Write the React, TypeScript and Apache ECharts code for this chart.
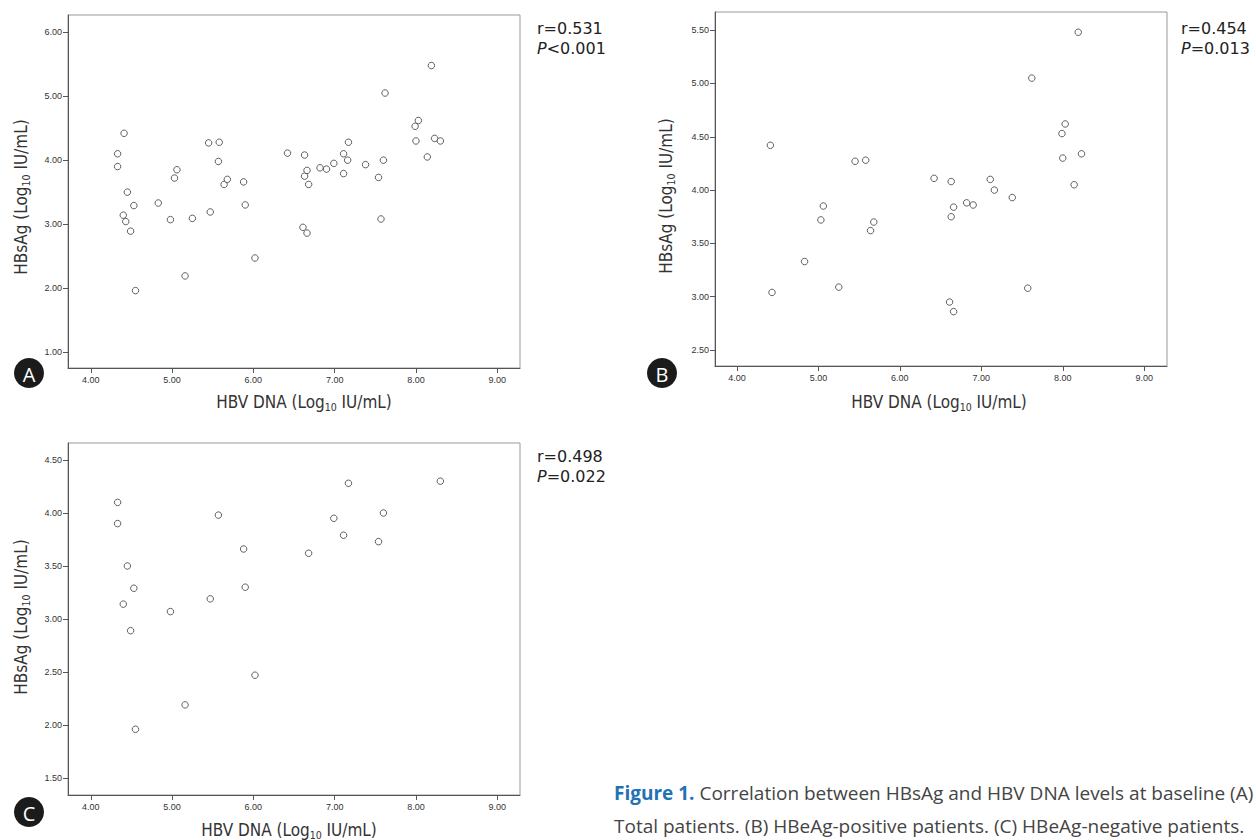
import React, { useEffect, useRef } from "react";
import * as echarts from "echarts";

// ---------- data ----------
const xTickValues = [4, 5, 6, 7, 8, 9];
const yTicksA = [1, 2, 3, 4, 5, 6];
const yTicksB = [2.5, 3, 3.5, 4, 4.5, 5, 5.5];
const yTicksC = [1.5, 2, 2.5, 3, 3.5, 4, 4.5];

// (B) HBeAg-positive patients: HBV DNA (log10 IU/mL), HBsAg (log10 IU/mL)
const posDNA = [4.41, 4.43, 4.83, 5.03, 5.06, 5.25, 5.45, 5.58, 5.64, 5.68, 6.42, 6.63, 6.63, 6.66, 6.61, 6.66, 6.82, 6.9, 7.11, 7.16, 7.38, 7.57, 7.62, 7.99, 8.03, 8.0, 8.14, 8.19, 8.23];
const posHBsAg = [4.42, 3.04, 3.33, 3.72, 3.85, 3.09, 4.27, 4.28, 3.62, 3.7, 4.11, 4.08, 3.75, 3.84, 2.95, 2.86, 3.88, 3.86, 4.1, 4.0, 3.93, 3.08, 5.05, 4.53, 4.62, 4.3, 4.05, 5.48, 4.34];

// (C) HBeAg-negative patients
const negDNA = [4.33, 4.33, 4.45, 4.53, 4.4, 4.49, 4.55, 4.98, 5.16, 5.47, 5.57, 5.88, 5.9, 6.02, 6.68, 6.99, 7.11, 7.17, 7.54, 7.6, 8.3];
const negHBsAg = [4.1, 3.9, 3.5, 3.29, 3.14, 2.89, 1.96, 3.07, 2.19, 3.19, 3.98, 3.66, 3.3, 2.47, 3.62, 3.95, 3.79, 4.28, 3.73, 4.0, 4.3];

const panelLetters = ["A", "B", "C"];
const rLabels = ["r=0.531", "r=0.454", "r=0.498"];
const pRel = ["<", "=", "="];
const pValues = ["0.001", "0.013", "0.022"];

const captionHead = "Figure 1.";
const captionLine1 = " Correlation between HBsAg and HBV DNA levels at baseline (A)";
const captionLine2 = "Total patients. (B) HBeAg-positive patients. (C) HBeAg-negative patients.";

// ---------- helpers ----------
const pairs = (xs: number[], ys: number[]) => xs.map((x, i) => [x, ys[i]]);
const totalData = [...pairs(posDNA, posHBsAg), ...pairs(negDNA, negHBsAg)];
const posData = pairs(posDNA, posHBsAg);
const negData = pairs(negDNA, negHBsAg);

const tickFont = {
  fontFamily: "'Liberation Sans', Arial, sans-serif",
  fontSize: 9,
  color: "#333",
};
const titleFont = "'Liberation Sans Narrow', 'DejaVu Sans Condensed', 'Liberation Sans', sans-serif";
const statFont = "'DejaVu Sans', Verdana, sans-serif";

const grids = [
  { left: 68, top: 15, width: 452, height: 353 },
  { left: 715, top: 12, width: 452, height: 354 },
  { left: 68, top: 443, width: 452, height: 352 },
];
const xRanges = [
  [3.72, 9.28],
  [3.73, 9.28],
  [3.72, 9.28],
];
const yRanges = [
  [0.75, 6.27],
  [2.35, 5.67],
  [1.34, 4.66],
];
const yTickSets = [yTicksA, yTicksB, yTicksC];

const xTitlePos = [
  [304, 402],
  [939, 402],
  [289, 830],
];
const yTitlePos = [
  [21, 197],
  [666, 196],
  [21, 617],
];
const statPos = [
  [537, 28],
  [1181, 28],
  [537, 456],
];
const letterPos = [
  [29, 373],
  [662, 373],
  [29, 812],
];

function buildOption() {
  const xAxes = grids.map((_, i) => ({
    type: "value",
    gridIndex: i,
    min: xRanges[i][0],
    max: xRanges[i][1],
    axisLine: { show: true, onZero: false, lineStyle: { color: "#555", width: 1 } },
    axisTick: { show: true, length: 5, customValues: xTickValues, lineStyle: { color: "#555" } },
    axisLabel: {
      customValues: xTickValues,
      formatter: (v: number) => v.toFixed(2),
      margin: 7,
      ...tickFont,
    },
    splitLine: { show: false },
  }));
  const yAxes = grids.map((_, i) => ({
    type: "value",
    gridIndex: i,
    min: yRanges[i][0],
    max: yRanges[i][1],
    axisLine: { show: true, onZero: false, lineStyle: { color: "#555", width: 1 } },
    axisTick: { show: true, length: 5, customValues: yTickSets[i], lineStyle: { color: "#555" } },
    axisLabel: {
      customValues: yTickSets[i],
      formatter: (v: number) => v.toFixed(2),
      margin: 6,
      ...tickFont,
    },
    splitLine: { show: false },
  }));
  const datasets = [totalData, posData, negData];
  const series = datasets.map((d, i) => ({
    type: "scatter",
    xAxisIndex: i,
    yAxisIndex: i,
    data: d,
    symbol: "circle",
    symbolSize: 6.5,
    itemStyle: { color: "#fff", borderColor: "#3a3a3a", borderWidth: 1 },
    emphasis: { disabled: true },
  }));

  const subRich = {
    sub: {
      fontSize: 10.5,
      lineHeight: 11,
      verticalAlign: "bottom",
      fontFamily: titleFont,
      fill: "#333",
    },
  };
  const graphics: any[] = [];
  for (let i = 0; i < 3; i++) {
    graphics.push({
      type: "text",
      x: xTitlePos[i][0],
      y: xTitlePos[i][1],
      style: {
        text: "HBV DNA (Log{sub|10} IU/mL)",
        fontFamily: titleFont,
        fontSize: 17,
        lineHeight: 20,
        fill: "#333",
        align: "center",
        verticalAlign: "middle",
        rich: subRich,
      },
    });
    graphics.push({
      type: "text",
      x: yTitlePos[i][0],
      y: yTitlePos[i][1],
      rotation: Math.PI / 2,
      style: {
        text: "HBsAg (Log{sub|10} IU/mL)",
        fontFamily: titleFont,
        fontSize: 17,
        lineHeight: 20,
        fill: "#333",
        align: "center",
        verticalAlign: "middle",
        rich: subRich,
      },
    });
    graphics.push({
      type: "text",
      x: statPos[i][0],
      y: statPos[i][1],
      style: {
        text: rLabels[i],
        fontFamily: statFont,
        fontSize: 16,
        fill: "#222",
        align: "left",
        verticalAlign: "middle",
      },
    });
    graphics.push({
      type: "text",
      x: statPos[i][0],
      y: statPos[i][1] + 20,
      style: {
        text: "{it|P}" + pRel[i] + pValues[i],
        fontFamily: statFont,
        fontSize: 16,
        fill: "#222",
        align: "left",
        verticalAlign: "middle",
        rich: {
          it: { fontStyle: "italic", fontFamily: statFont, fontSize: 16, fill: "#222" },
        },
      },
    });
    graphics.push({
      type: "circle",
      shape: { cx: letterPos[i][0], cy: letterPos[i][1], r: 15 },
      style: { fill: "#1b1b1b" },
    });
    graphics.push({
      type: "text",
      x: letterPos[i][0],
      y: letterPos[i][1] + 1,
      style: {
        text: panelLetters[i],
        fontFamily: "'Open Sans', 'Noto Sans', sans-serif",
        fontSize: 20,
        fill: "#fff",
        align: "center",
        verticalAlign: "middle",
      },
    });
  }
  graphics.push({
    type: "text",
    x: 614,
    y: 776,
    style: {
      text: "{b|" + captionHead + "}" + captionLine1 + "\n" + captionLine2,
      fontFamily: "'Open Sans', 'Noto Sans', sans-serif",
      fontSize: 19,
      lineHeight: 33,
      fill: "#444",
      align: "left",
      verticalAlign: "top",
      rich: {
        b: {
          fontFamily: "'Open Sans', 'Noto Sans', sans-serif",
          fontSize: 19,
          fontWeight: "bold",
          fill: "#1f72b4",
          lineHeight: 33,
        },
      },
    },
  });

  return {
    animation: false,
    backgroundColor: "#fff",
    grid: grids.map((g) => ({ ...g, show: true, borderColor: "#999", borderWidth: 1, containLabel: false })),
    xAxis: xAxes,
    yAxis: yAxes,
    series,
    graphic: graphics,
  };
}

export default function App() {
  const ref = useRef<HTMLDivElement>(null);
  useEffect(() => {
    document.body.style.margin = "0";
    const chart = echarts.init(ref.current as HTMLDivElement, null, { renderer: "svg" });
    chart.setOption(buildOption() as any);
    return () => chart.dispose();
  }, []);
  return <div ref={ref} style={{ width: 1256, height: 840, background: "#fff" }} />;
}
